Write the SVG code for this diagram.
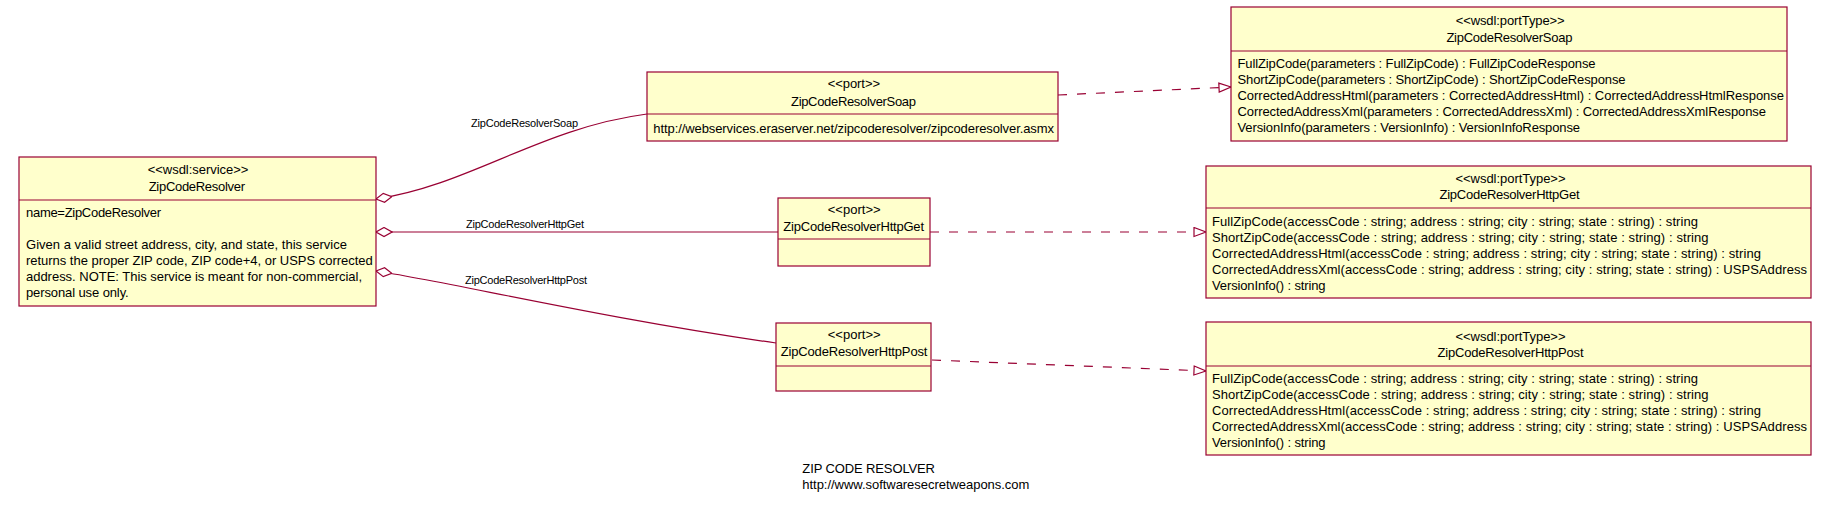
<svg xmlns="http://www.w3.org/2000/svg" width="1829" height="505" viewBox="0 0 1829 505">
<style>
.box{fill:#ffffcc;stroke:#990033;stroke-width:1.2}
.div{stroke:#990033;stroke-width:1.2}
text{font-family:"Liberation Sans",Arial,sans-serif;font-size:13px;fill:#000}
.lbl{font-size:11px}
.conn{fill:none;stroke:#990033;stroke-width:1.2}
.dash{stroke-dasharray:9 10}
</style>
<defs>
<marker id="diamond" markerUnits="userSpaceOnUse" markerWidth="17" markerHeight="11" viewBox="0 0 17 11" refX="0.5" refY="5.5" orient="auto">
<path d="M0.5,5.5 L8.5,1 L16.5,5.5 L8.5,10 Z" fill="#fff" stroke="#990033" stroke-width="1.2"/>
</marker>
<marker id="tri" markerUnits="userSpaceOnUse" markerWidth="14" markerHeight="11" viewBox="0 0 14 11" refX="13" refY="5.5" orient="auto">
<path d="M1,1 L13,5.5 L1,10 Z" fill="#fff" stroke="#990033" stroke-width="1.2"/>
</marker>
</defs>

<g id="connectors">
<path class="conn" d="M376,199 C470,185 540,128 647,114" marker-start="url(#diamond)"/>
<path class="conn" d="M376,232 L778,232" marker-start="url(#diamond)"/>
<path class="conn" d="M376,271 C450,282 600,318 776,343" marker-start="url(#diamond)"/>
<path class="conn dash" d="M1058,95 L1231,87" marker-end="url(#tri)"/>
<path class="conn dash" d="M930,232 L1206,232" marker-end="url(#tri)"/>
<path class="conn dash" d="M932,360 L1206,371" marker-end="url(#tri)"/>
<text class="lbl" x="471" y="127" textLength="107">ZipCodeResolverSoap</text>
<text class="lbl" x="466" y="228" textLength="118">ZipCodeResolverHttpGet</text>
<text class="lbl" x="465" y="284" textLength="122">ZipCodeResolverHttpPost</text>
</g>

<g id="service">
<rect class="box" x="19" y="157" width="357" height="149"/>
<line class="div" x1="19" y1="200" x2="376" y2="200"/>
<text x="147.7" y="174" textLength="100.7">&lt;&lt;wsdl:service&gt;&gt;</text>
<text x="148.7" y="191" textLength="96.3">ZipCodeResolver</text>
<text x="26" y="217" textLength="135">name=ZipCodeResolver</text>
<text x="26" y="249" textLength="321">Given a valid street address, city, and state, this service</text>
<text x="26" y="265" textLength="346.7">returns the proper ZIP code, ZIP code+4, or USPS corrected</text>
<text x="26" y="281" textLength="336">address. NOTE: This service is meant for non-commercial,</text>
<text x="26" y="297" textLength="102.7">personal use only.</text>
</g>

<g id="port-soap">
<rect class="box" x="647" y="72" width="411" height="69"/>
<line class="div" x1="647" y1="114" x2="1058" y2="114"/>
<text x="827.7" y="88" textLength="52.3">&lt;&lt;port&gt;&gt;</text>
<text x="791" y="106" textLength="125">ZipCodeResolverSoap</text>
<text x="653.3" y="133" textLength="400.7">http://webservices.eraserver.net/zipcoderesolver/zipcoderesolver.asmx</text>
</g>

<g id="port-httpget">
<rect class="box" x="778" y="198" width="152" height="68"/>
<line class="div" x1="778" y1="239" x2="930" y2="239"/>
<text x="827.7" y="214" textLength="53">&lt;&lt;port&gt;&gt;</text>
<text x="783.3" y="231" textLength="140.7">ZipCodeResolverHttpGet</text>
</g>

<g id="port-httppost">
<rect class="box" x="776" y="323" width="155" height="68"/>
<line class="div" x1="776" y1="366" x2="931" y2="366"/>
<text x="827.7" y="339" textLength="53">&lt;&lt;port&gt;&gt;</text>
<text x="780.7" y="356" textLength="146.7">ZipCodeResolverHttpPost</text>
</g>

<g id="porttype-soap">
<rect class="box" x="1231" y="7" width="556" height="134"/>
<line class="div" x1="1231" y1="51" x2="1787" y2="51"/>
<text x="1455.7" y="25" textLength="109">&lt;&lt;wsdl:portType&gt;&gt;</text>
<text x="1446.4" y="42" textLength="126">ZipCodeResolverSoap</text>
<text x="1237.5" y="68" textLength="358">FullZipCode(parameters : FullZipCode) : FullZipCodeResponse</text>
<text x="1237.5" y="84" textLength="388">ShortZipCode(parameters : ShortZipCode) : ShortZipCodeResponse</text>
<text x="1237.5" y="100" textLength="546.5">CorrectedAddressHtml(parameters : CorrectedAddressHtml) : CorrectedAddressHtmlResponse</text>
<text x="1237.5" y="116" textLength="528.5">CorrectedAddressXml(parameters : CorrectedAddressXml) : CorrectedAddressXmlResponse</text>
<text x="1237.5" y="132" textLength="342.5">VersionInfo(parameters : VersionInfo) : VersionInfoResponse</text>
</g>

<g id="porttype-httpget">
<rect class="box" x="1206" y="166" width="605" height="132"/>
<line class="div" x1="1206" y1="208" x2="1811" y2="208"/>
<text x="1455.5" y="183" textLength="110">&lt;&lt;wsdl:portType&gt;&gt;</text>
<text x="1439.5" y="199" textLength="140">ZipCodeResolverHttpGet</text>
<text x="1212" y="226" textLength="486">FullZipCode(accessCode : string; address : string; city : string; state : string) : string</text>
<text x="1212" y="242" textLength="496.6">ShortZipCode(accessCode : string; address : string; city : string; state : string) : string</text>
<text x="1212" y="258" textLength="549">CorrectedAddressHtml(accessCode : string; address : string; city : string; state : string) : string</text>
<text x="1212" y="274" textLength="595">CorrectedAddressXml(accessCode : string; address : string; city : string; state : string) : USPSAddress</text>
<text x="1212" y="290" textLength="113.6">VersionInfo() : string</text>
</g>

<g id="porttype-httppost">
<rect class="box" x="1206" y="322" width="605" height="133"/>
<line class="div" x1="1206" y1="366" x2="1811" y2="366"/>
<text x="1455.5" y="341" textLength="110">&lt;&lt;wsdl:portType&gt;&gt;</text>
<text x="1437.5" y="357" textLength="146">ZipCodeResolverHttpPost</text>
<text x="1212" y="383" textLength="486">FullZipCode(accessCode : string; address : string; city : string; state : string) : string</text>
<text x="1212" y="399" textLength="496.6">ShortZipCode(accessCode : string; address : string; city : string; state : string) : string</text>
<text x="1212" y="415" textLength="549">CorrectedAddressHtml(accessCode : string; address : string; city : string; state : string) : string</text>
<text x="1212" y="431" textLength="595">CorrectedAddressXml(accessCode : string; address : string; city : string; state : string) : USPSAddress</text>
<text x="1212" y="447" textLength="113.6">VersionInfo() : string</text>
</g>

<g id="footer">
<text x="802.3" y="473" textLength="132.7">ZIP CODE RESOLVER</text>
<text x="802.3" y="489" textLength="227">http://www.softwaresecretweapons.com</text>
</g>
</svg>
